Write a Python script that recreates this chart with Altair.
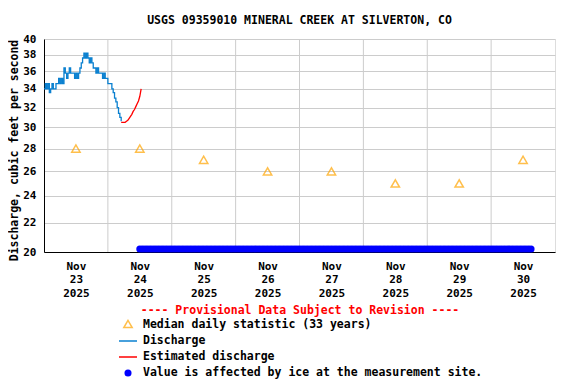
import altair as alt
import pandas as pd

# ---------------- data ----------------
title_text = "USGS 09359010 MINERAL CREEK AT SILVERTON, CO"
y_title = "Discharge, cubic feet per second"

# discharge (hours after 2025-11-23 00:00, cfs)
q_hours = [0.0, 0.5, 1.0, 1.5, 2.0, 2.5, 3.0, 3.5, 4.0, 4.5, 5.0, 5.5, 6.0, 6.5, 7.0,
           7.5, 8.0, 8.5, 9.0, 9.5, 10.0, 10.5, 11.0, 11.5, 12.0, 12.5, 13.0, 13.5,
           14.0, 14.5, 15.0, 15.5, 16.0, 16.5, 17.0, 17.5, 18.0, 18.5, 19.0, 19.5,
           20.0, 20.5, 21.0, 21.5, 22.0, 22.5, 23.0, 23.5, 24.0, 24.5, 25.0, 25.5,
           26.0, 26.5, 27.0, 27.5, 28.0, 28.5, 29.0]
q_values = [34.0, 34.6, 34.0, 34.6, 33.6, 34.0, 34.6, 34.0, 34.0, 34.6, 34.6, 35.2,
            34.6, 35.2, 34.6, 36.4, 35.8, 35.2, 35.8, 36.4, 35.8, 35.8, 35.8, 35.2,
            35.8, 35.2, 35.8, 36.4, 37.0, 37.6, 38.2, 37.6, 38.2, 37.6, 37.0, 37.6,
            37.0, 36.4, 36.4, 35.8, 36.4, 35.8, 35.8, 35.8, 35.2, 35.8, 35.2, 35.2,
            34.6, 34.6, 34.6, 34.0, 33.6, 33.0, 32.6, 32.0, 31.4, 31.0, 30.6]

# estimated discharge
e_hours = [29.0, 29.5, 30.0, 30.5, 31.0, 31.5, 32.0, 32.5, 33.0, 33.5, 34.0, 34.5,
           35.0, 35.5, 36.0, 36.5]
e_values = [30.5, 30.5, 30.5, 30.5, 30.6, 30.7, 30.9, 31.1, 31.3, 31.6, 31.8, 32.1,
            32.4, 32.7, 33.2, 34.0]

# median daily statistic (at noon each day)
median_days = ["2025-11-23", "2025-11-24", "2025-11-25", "2025-11-26",
               "2025-11-27", "2025-11-28", "2025-11-29", "2025-11-30"]
median_values = [28, 28, 27, 26, 26, 25, 25, 27]

# ice-affected period (hours after 2025-11-23 00:00), flagged at the bottom
ice_start_h = 36
ice_end_h = 183
ice_level = 20.2

y_ticks = [20, 22, 24, 26, 28, 30, 32, 34, 36, 38, 40]
grid_days = ["2025-11-24", "2025-11-25", "2025-11-26", "2025-11-27",
             "2025-11-28", "2025-11-29", "2025-11-30"]

legend_header = "---- Provisional Data Subject to Revision ----"
legend_labels = ["Median daily statistic (33 years)", "Discharge",
                 "Estimated discharge",
                 "Value is affected by ice at the measurement site."]

# ---------------- build tables ----------------
base = pd.Timestamp("2025-11-23 00:00")
fmt = "%Y-%m-%dT%H:%M:%S"


def ts(h):
    return (base + pd.Timedelta(hours=h)).strftime(fmt)


q_df = pd.DataFrame({"t": [ts(h) for h in q_hours], "v": q_values})
e_df = pd.DataFrame({"t": [ts(h) for h in e_hours], "v": e_values})
m_df = pd.DataFrame({"t": [d + "T12:00:00" for d in median_days], "v": median_values})
ice_df = pd.DataFrame({"t": [ts(h) for h in range(ice_start_h, ice_end_h + 1)],
                       "v": [ice_level] * (ice_end_h - ice_start_h + 1)})
g_df = pd.DataFrame({"t": [d + "T00:00:00" for d in grid_days]})

FONT = "DejaVu Sans Mono"

xscale = alt.Scale(domain=[alt.DateTime(year=2025, month=11, date=23, hours=0),
                           alt.DateTime(year=2025, month=12, date=1, hours=0)])
yscale = alt.Scale(type="log", domain=[20, 40], nice=False)

label_vals = [alt.DateTime(year=2025, month=11, date=d, hours=12) for d in range(23, 31)]

xaxis = alt.Axis(values=label_vals, grid=False, ticks=False, title=None,
                 labelExpr="[timeFormat(datum.value, '%b'), timeFormat(datum.value, '%d'), timeFormat(datum.value, '%Y')]",
                 labelFont=FONT, labelFontSize=11, labelFontWeight="bold",
                 labelColor="black", labelLineHeight=13.5, labelPadding=8,
                 labelBaseline="top", domainColor="black", labelFlush=False,
                 labelOverlap=False)
yaxis = alt.Axis(values=y_ticks, format="d", grid=True, gridColor="#cccccc",
                 ticks=False, title=y_title, titleFont=FONT, titleFontSize=11.5,
                 titleFontWeight="bold", titleColor="black", titlePadding=3,
                 titleY=111,
                 labelFont=FONT, labelFontSize=11, labelFontWeight="bold",
                 labelColor="black", labelPadding=8, domainColor="black")

X = alt.X("t:T", scale=xscale, axis=xaxis)
Y = alt.Y("v:Q", scale=yscale, axis=yaxis)

grid = alt.Chart(g_df).mark_rule(color="#cccccc", strokeWidth=1).encode(
    x=alt.X("t:T", scale=xscale, axis=xaxis))

median = alt.Chart(m_df).mark_point(shape="triangle-up", filled=False,
                                     color="#ffa500", size=70, strokeWidth=1.5).encode(x=X, y=Y)
disc = alt.Chart(q_df).mark_line(color="#0a80d0", strokeWidth=1.3,
                                 interpolate="step-after").encode(x=X, y=Y)
est = alt.Chart(e_df).mark_line(color="#ff0000", strokeWidth=1.3).encode(x=X, y=Y)
ice = alt.Chart(ice_df).mark_circle(color="#0000ff", size=50, opacity=1).encode(x=X, y=Y)

# ---------------- legend (below plot) ----------------
one = pd.DataFrame({"a": [0]})
hdr = alt.Chart(one).mark_text(text=legend_header, color="#ff0000", font=FONT,
                               fontSize=11.5, fontWeight="bold").encode(
    x=alt.value(256), y=alt.value(272))
leg_tri = alt.Chart(one).mark_point(shape="triangle-up", filled=False, color="#ffa500",
                                    size=70, strokeWidth=1.5).encode(
    x=alt.value(84), y=alt.value(285))
leg_q = alt.Chart(one).mark_rule(color="#0a80d0", strokeWidth=1.5).encode(
    x=alt.value(75), x2=alt.value(93), y=alt.value(302))
leg_e = alt.Chart(one).mark_rule(color="#ff0000", strokeWidth=1.5).encode(
    x=alt.value(75), x2=alt.value(93), y=alt.value(318))
leg_i = alt.Chart(one).mark_circle(color="#0000ff", size=50, opacity=1).encode(
    x=alt.value(84), y=alt.value(334))
leg_txt = [alt.Chart(one).mark_text(text=lab, align="left", baseline="middle",
                                    color="black", font=FONT, fontSize=11.5,
                                    fontWeight="bold").encode(
    x=alt.value(99), y=alt.value(286 + 16 * i)) for i, lab in enumerate(legend_labels)]

chart = alt.layer(grid, median, disc, est, ice, hdr, leg_tri, leg_q, leg_e, leg_i,
                  *leg_txt).properties(
    width=511, height=213,
    title=alt.Title(title_text, font=FONT, fontSize=11.5, fontWeight="bold",
                    color="black", anchor="middle", offset=7),
    autosize=alt.AutoSizeParams(type="none"),
    padding={"left": 36, "top": 31, "right": 12, "bottom": 128},
).configure_view(stroke="black", strokeWidth=1).configure(background="white")

chart.save("out.html", embed_options={"renderer": "svg", "actions": False})
